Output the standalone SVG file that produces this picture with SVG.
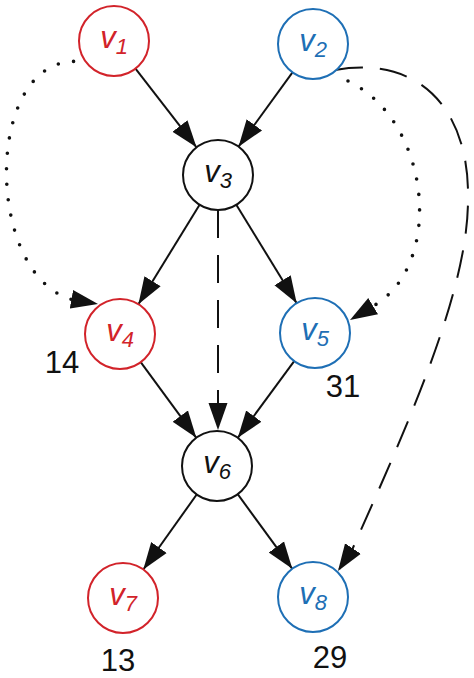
<svg xmlns="http://www.w3.org/2000/svg" width="474" height="678" viewBox="0 0 474 678">
<style>
.node{fill:#fff;stroke-width:2}
.red{stroke:#d2232a}
.blue{stroke:#1e6fb5}
.blk{stroke:#111}
.lbl{font-family:"Liberation Sans",Arial,sans-serif;font-style:italic;font-size:31px;text-anchor:middle}
.lr{fill:#d2232a}
.lb{fill:#1e6fb5}
.lk{fill:#111}
.sub{font-size:22px}
.num{font-family:"Liberation Sans",Arial,sans-serif;font-size:31px;fill:#111;text-anchor:middle}
.e{fill:none;stroke:#111;stroke-width:2;marker-end:url(#ah)}
.dash{stroke-dasharray:28 17}
.dot{stroke-width:3.6;stroke-linecap:round;stroke-dasharray:0 15.5}
</style>
<defs>
<marker id="ah" markerUnits="userSpaceOnUse" markerWidth="30" markerHeight="22" viewBox="0 -11 30 22" refX="27" refY="0" orient="auto">
<path d="M0,-9.5 L27,0 L0,9.5 Z" fill="#111"/>
</marker>
</defs>
<g id="connectors">
<line class="e" x1="135.5" y1="68.7" x2="196.5" y2="147.3"/>
<line class="e" x1="292.5" y1="72.3" x2="238.5" y2="146.7"/>
<line class="e" x1="199.6" y1="204.8" x2="138.4" y2="304.2"/>
<line class="e" x1="236.3" y1="204.8" x2="296.7" y2="303.2"/>
<line class="e" x1="140.7" y1="362.2" x2="196.3" y2="437.8"/>
<line class="e" x1="294.2" y1="361.2" x2="237.8" y2="437.8"/>
<line class="e" x1="196.7" y1="494.5" x2="143.3" y2="569.5"/>
<line class="e" x1="237.7" y1="494.2" x2="292.3" y2="568.8"/>
<path class="e dash" d="M218,210 L218,430"/>
<path class="e dash" d="M335,70 C420,55 470,110 468,200 C468,290 410,420 352,550 L338,571"/>
<path class="e dot" d="M89,63 C-15,40 -20,270 70,299 L98,304"/>
<path class="e dot" d="M348,81 C430,120 445,262 375,305 L350,320"/>
</g>
<g id="v1"><circle class="node red" cx="114" cy="41" r="35"/><text class="lbl lr" x="114" y="48">v<tspan class="sub" dy="6">1</tspan></text></g>
<g id="v2"><circle class="node blue" cx="313" cy="44" r="35"/><text class="lbl lb" x="313" y="51">v<tspan class="sub" dy="6">2</tspan></text></g>
<g id="v3"><circle class="node blk" cx="218" cy="175" r="35"/><text class="lbl lk" x="218" y="182">v<tspan class="sub" dy="6">3</tspan></text></g>
<g id="v4"><circle class="node red" cx="120" cy="334" r="35"/><text class="lbl lr" x="120" y="341">v<tspan class="sub" dy="6">4</tspan></text><text class="num" x="62" y="373">14</text></g>
<g id="v5"><circle class="node blue" cx="315" cy="333" r="35"/><text class="lbl lb" x="315" y="340">v<tspan class="sub" dy="6">5</tspan></text><text class="num" x="343" y="397">31</text></g>
<g id="v6"><circle class="node blk" cx="217" cy="466" r="35"/><text class="lbl lk" x="217" y="473">v<tspan class="sub" dy="6">6</tspan></text></g>
<g id="v7"><circle class="node red" cx="123" cy="598" r="35"/><text class="lbl lr" x="123" y="605">v<tspan class="sub" dy="6">7</tspan></text><text class="num" x="118" y="671">13</text></g>
<g id="v8"><circle class="node blue" cx="313" cy="597" r="35"/><text class="lbl lb" x="313" y="604">v<tspan class="sub" dy="6">8</tspan></text><text class="num" x="330" y="668">29</text></g>
</svg>
